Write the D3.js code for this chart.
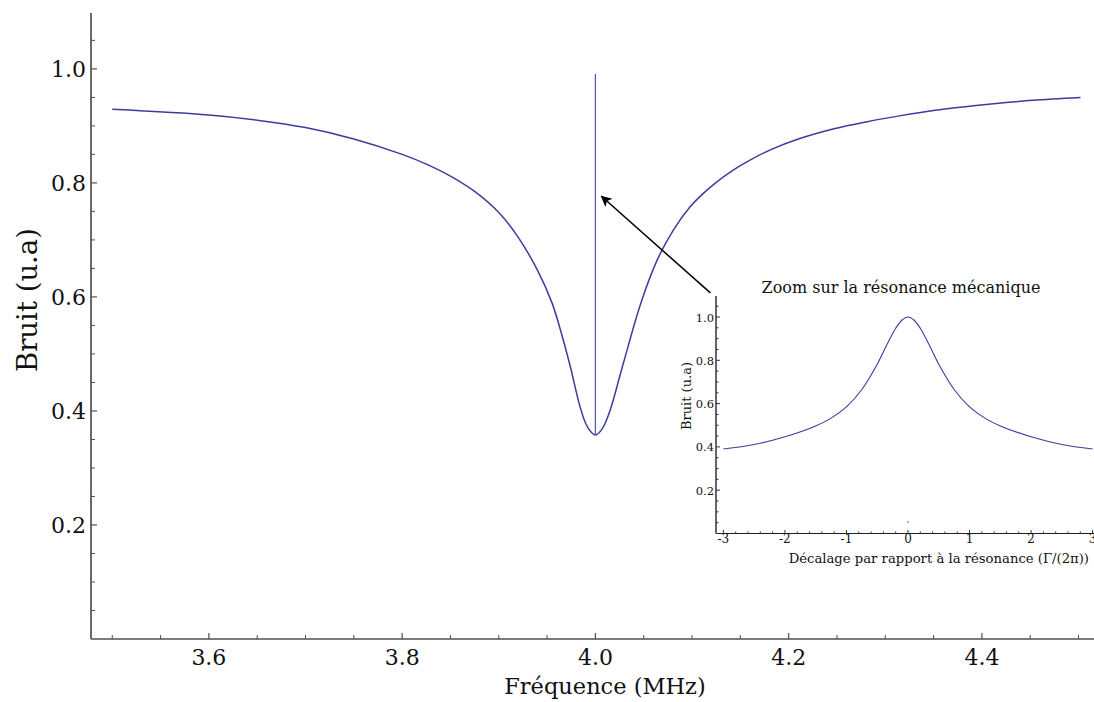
<!DOCTYPE html>
<html><head><meta charset="utf-8">
<script src="https://cdn.jsdelivr.net/npm/d3@7"></script>
<style>
body{margin:0;background:#fff;}
svg{display:block;}
</style></head>
<body><svg id="chart" width="1094" height="702" font-family="'DejaVu Serif', serif"></svg>
<script>
// ---- main curve data ----
const freq  = [3.500,3.600,3.650,3.700,3.750,3.800,3.825,3.850,3.875,3.900,3.920,3.940,3.955,3.965,3.974,3.984,3.990,3.995,4.000,4.005,4.010,4.016,4.029,4.047,4.064,4.081,4.098,4.110,4.125,4.143,4.160,4.181,4.210,4.247,4.280,4.316,4.350,4.385,4.420,4.453,4.502];
const noise = [0.929,0.919,0.910,0.897,0.877,0.850,0.833,0.812,0.785,0.748,0.705,0.647,0.590,0.535,0.478,0.408,0.378,0.364,0.358,0.364,0.378,0.405,0.484,0.589,0.665,0.718,0.758,0.779,0.801,0.823,0.840,0.858,0.877,0.895,0.907,0.918,0.927,0.934,0.940,0.945,0.950];
// mechanical resonance spike
const spikeFreq  = [4.000,4.000];
const spikeNoise = [0.358,0.991];
// tick labels
const xMajor = [3.6,3.8,4.0,4.2,4.4];
const yMajor = [0.2,0.4,0.6,0.8,1.0];
// inset data
const detuning   = [-3.0,-2.5,-2.0,-1.5,-1.25,-1.0,-0.75,-0.5,-0.35,-0.2,-0.1,0.0,0.1,0.2,0.35,0.5,0.75,1.0,1.25,1.5,2.0,2.5,3.0];
const insetNoise = [0.390,0.411,0.447,0.497,0.533,0.585,0.665,0.782,0.868,0.948,0.985,1.000,0.985,0.948,0.868,0.782,0.665,0.585,0.533,0.497,0.447,0.411,0.390];
const insetXMajor = [-3,-2,-1,0,1,2,3];
const insetYMajor = [0.2,0.4,0.6,0.8,1.0];
// arrow (in data coordinates of the main plot)
const arrowFrom = [4.119,0.607];
const arrowTo   = [4.006,0.777];

const svg = d3.select("#chart");
const curveColor = "#3c3c9e";
const axisColor = "#505050";
const txt = "#111";

// ---------- MAIN ----------
const x = d3.scaleLinear().domain([3.478,4.516]).range([91,1094]);
const y = d3.scaleLinear().domain([0,1.098]).range([639,13]);

const gx = svg.append("g");
gx.append("line").attr("x1",x.range()[0]).attr("x2",x.range()[1]).attr("y1",y(0)).attr("y2",y(0))
  .attr("stroke",axisColor).attr("stroke-width",1.7);
const xMinor = d3.range(3.5,4.5001,0.05).filter(v=>!xMajor.some(m=>Math.abs(m-v)<1e-6));
gx.selectAll(".xmin").data(xMinor).join("line")
  .attr("x1",d=>x(d)).attr("x2",d=>x(d)).attr("y1",y(0)).attr("y2",y(0)-4)
  .attr("stroke",axisColor).attr("stroke-width",1);
gx.selectAll(".xmaj").data(xMajor).join("line")
  .attr("x1",d=>x(d)).attr("x2",d=>x(d)).attr("y1",y(0)).attr("y2",y(0)-6)
  .attr("stroke",axisColor).attr("stroke-width",1.2);
gx.selectAll(".xlab").data(xMajor).join("text")
  .attr("x",d=>x(d)).attr("y",y(0)+26).attr("text-anchor","middle").attr("fill",txt)
  .attr("font-size",22).text(d=>d.toFixed(1));

const gy = svg.append("g");
gy.append("line").attr("x1",91).attr("x2",91).attr("y1",y.range()[0]).attr("y2",y.range()[1])
  .attr("stroke",axisColor).attr("stroke-width",1.7);
const yMinor = d3.range(0.05,1.0501,0.05).filter(v=>!yMajor.some(m=>Math.abs(m-v)<1e-6));
gy.selectAll(".ymin").data(yMinor).join("line")
  .attr("x1",91).attr("x2",95).attr("y1",d=>y(d)).attr("y2",d=>y(d))
  .attr("stroke",axisColor).attr("stroke-width",1);
gy.selectAll(".ymaj").data(yMajor).join("line")
  .attr("x1",91).attr("x2",97).attr("y1",d=>y(d)).attr("y2",d=>y(d))
  .attr("stroke",axisColor).attr("stroke-width",1.2);
gy.selectAll(".ylab").data(yMajor).join("text")
  .attr("x",86).attr("y",d=>y(d)+8).attr("text-anchor","end").attr("fill",txt)
  .attr("font-size",22).text(d=>d.toFixed(1));

svg.append("text").attr("x",605).attr("y",694).attr("text-anchor","middle").attr("fill",txt)
  .attr("font-size",22.5).text("Fréquence (MHz)");
svg.append("text").attr("transform","translate(37,300) rotate(-90)").attr("text-anchor","middle").attr("fill",txt)
  .attr("font-size",27.5).text("Bruit (u.a)");

const line = d3.line().x(d=>x(d[0])).y(d=>y(d[1])).curve(d3.curveCatmullRom.alpha(0.5));
svg.append("path").datum(freq.map((f,i)=>[f,noise[i]])).attr("d",line)
  .attr("fill","none").attr("stroke",curveColor).attr("stroke-width",1.5);
svg.append("path").datum(spikeFreq.map((f,i)=>[f,spikeNoise[i]]))
  .attr("d",d3.line().x(d=>x(d[0])).y(d=>y(d[1])))
  .attr("fill","none").attr("stroke","#5a5ab0").attr("stroke-width",1.3);

// arrow
svg.append("defs").append("marker").attr("id","ah").attr("viewBox","0 0 10 10")
  .attr("refX",9.5).attr("refY",5).attr("markerWidth",15).attr("markerHeight",11)
  .attr("markerUnits","userSpaceOnUse").attr("orient","auto")
  .append("path").attr("d","M0,0 L10,5 L0,10 L2.5,5 Z").attr("fill","#000");
svg.append("line").attr("x1",x(arrowFrom[0])).attr("y1",y(arrowFrom[1]))
  .attr("x2",x(arrowTo[0])).attr("y2",y(arrowTo[1]))
  .attr("stroke","#000").attr("stroke-width",1.5).attr("marker-end","url(#ah)");

// ---------- INSET ----------
const xi = d3.scaleLinear().domain([-3.12,3.12]).range([716,1100]);
const yi = d3.scaleLinear().domain([0,1.097]).range([533.5,296]);
const gi = svg.append("g");
gi.append("line").attr("x1",716).attr("x2",1100).attr("y1",yi(0)).attr("y2",yi(0))
  .attr("stroke","#222").attr("stroke-width",1.2);
gi.append("line").attr("x1",716).attr("x2",716).attr("y1",yi(0)).attr("y2",yi.range()[1])
  .attr("stroke","#666").attr("stroke-width",2);
const ixMinor = d3.range(-3,3.001,0.2).filter(v=>!insetXMajor.some(m=>Math.abs(m-v)<1e-6));
gi.selectAll(".ixmin").data(ixMinor).join("line")
  .attr("x1",d=>xi(d)).attr("x2",d=>xi(d)).attr("y1",yi(0)).attr("y2",yi(0)-2)
  .attr("stroke","#333").attr("stroke-width",1);
gi.selectAll(".ixmaj").data(insetXMajor).join("line")
  .attr("x1",d=>xi(d)).attr("x2",d=>xi(d)).attr("y1",yi(0)).attr("y2",yi(0)-3.5)
  .attr("stroke","#333").attr("stroke-width",1);
gi.selectAll(".ixlab").data(insetXMajor).join("text")
  .attr("x",d=>xi(d)).attr("y",yi(0)+9).attr("text-anchor","middle").attr("fill",txt)
  .attr("font-size",12).text(d=>d);
const iyMinor = d3.range(0.05,1.0501,0.05).filter(v=>!insetYMajor.some(m=>Math.abs(m-v)<1e-6));
gi.selectAll(".iymin").data(iyMinor).join("line")
  .attr("x1",716).attr("x2",718.5).attr("y1",d=>yi(d)).attr("y2",d=>yi(d))
  .attr("stroke","#333").attr("stroke-width",1);
gi.selectAll(".iymaj").data(insetYMajor).join("line")
  .attr("x1",716).attr("x2",720).attr("y1",d=>yi(d)).attr("y2",d=>yi(d))
  .attr("stroke","#333").attr("stroke-width",1);
gi.selectAll(".iylab").data(insetYMajor).join("text")
  .attr("x",714).attr("y",d=>yi(d)+4.5).attr("text-anchor","end").attr("fill",txt)
  .attr("font-size",11.5).text(d=>d.toFixed(1));
gi.append("rect").attr("x",xi(0)-0.6).attr("y",yi(0.053)-0.6).attr("width",1.3).attr("height",1.3).attr("fill","#555");
gi.append("text").attr("x",901).attr("y",293).attr("text-anchor","middle").attr("fill",txt)
  .attr("font-size",16).text("Zoom sur la résonance mécanique");
gi.append("text").attr("x",1089).attr("y",563).attr("text-anchor","end").attr("fill",txt)
  .attr("font-size",13.2).text("Décalage par rapport à la résonance (Γ/(2π))");
gi.append("text").attr("transform","translate(691,396) rotate(-90)").attr("text-anchor","middle").attr("fill",txt)
  .attr("font-size",13).text("Bruit (u.a)");
const li = d3.line().x(d=>xi(d[0])).y(d=>yi(d[1])).curve(d3.curveCatmullRom.alpha(0.5));
gi.append("path").datum(detuning.map((u,i)=>[u,insetNoise[i]])).attr("d",li)
  .attr("fill","none").attr("stroke",curveColor).attr("stroke-width",1.1);
</script></body></html>
